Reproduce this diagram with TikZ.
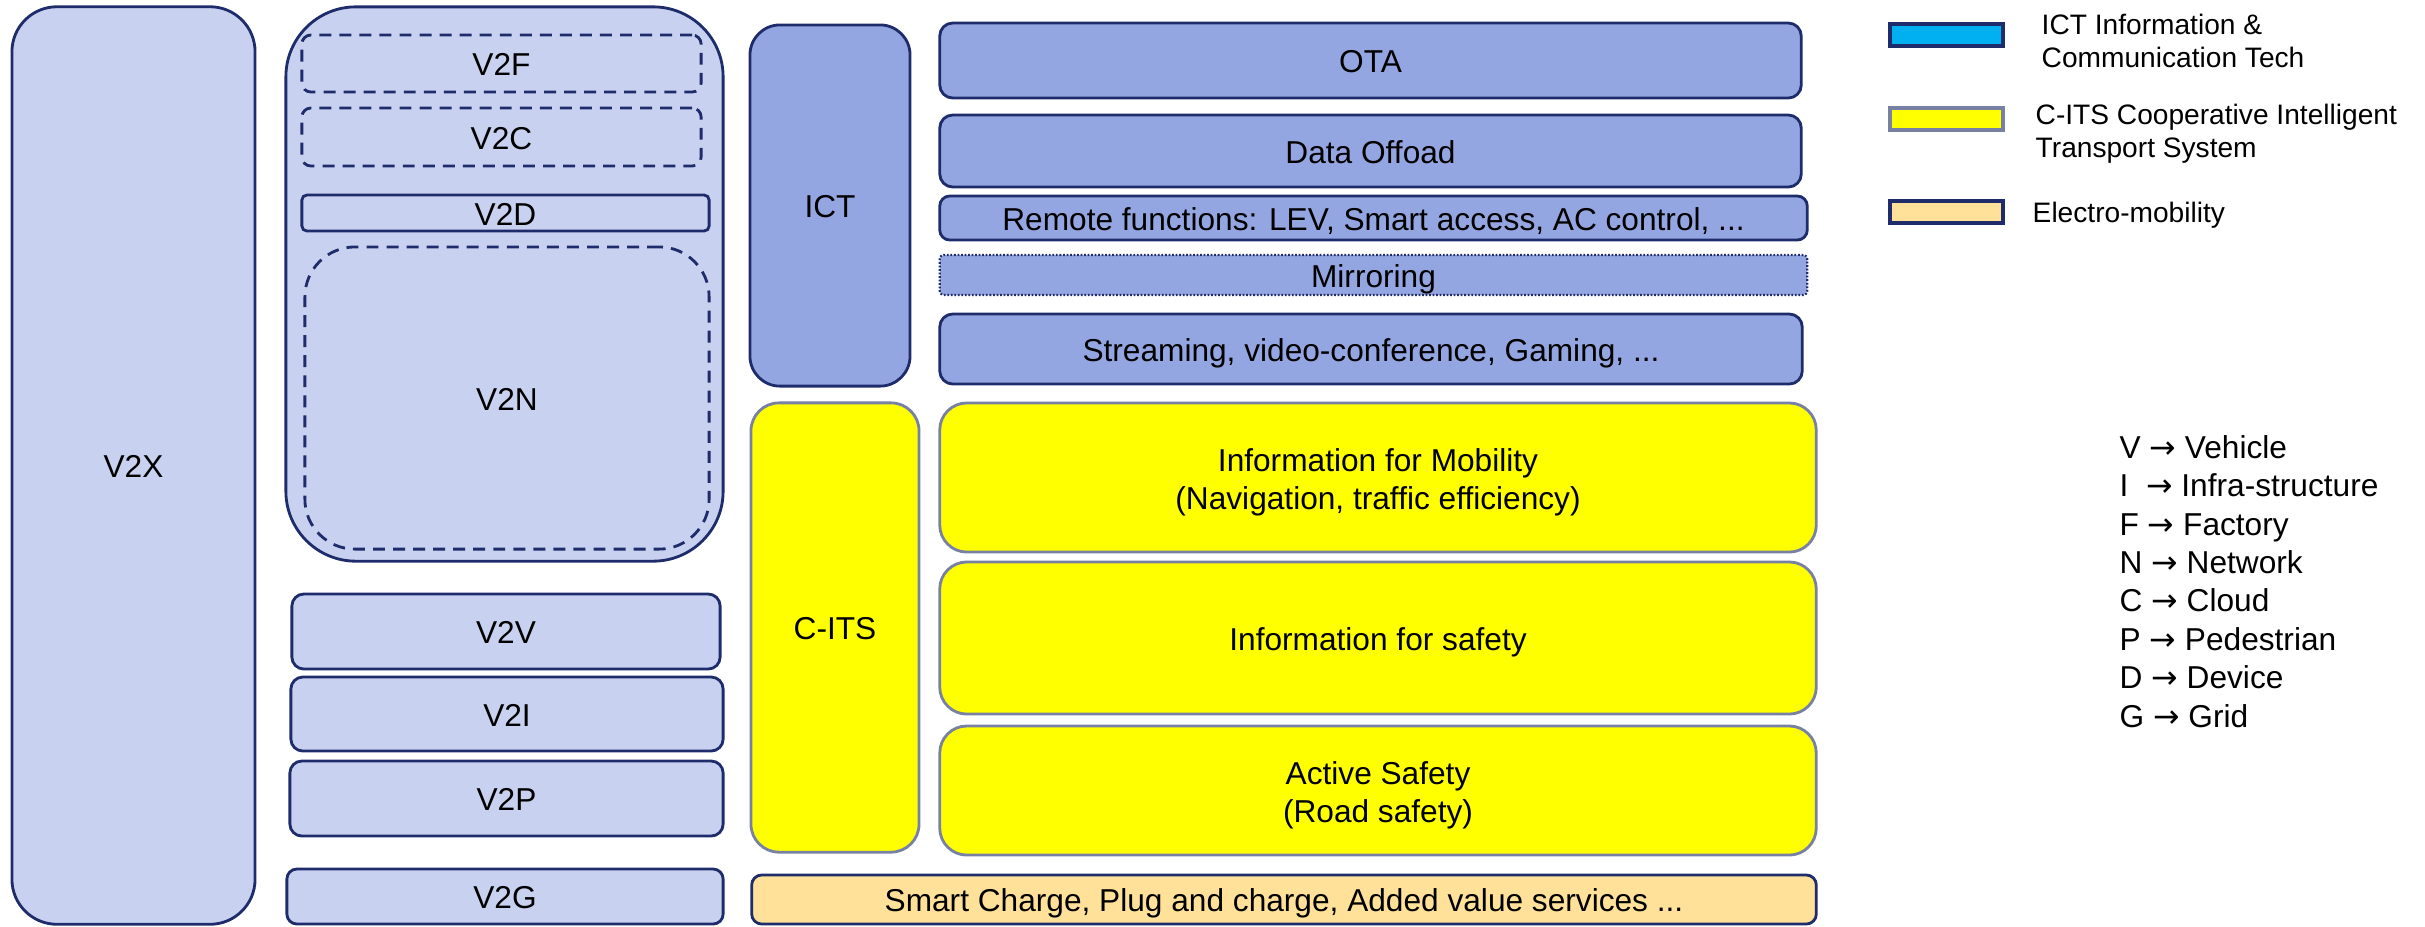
\documentclass[tikz,border=0pt]{standalone}
\usepackage{fontspec}
\setmainfont{Liberation Sans}
\newfontfamily\arrowfont{DejaVu Sans}
\definecolor{navy}{HTML}{1F2C6B}
\definecolor{lightv}{HTML}{C8D1F0}
\definecolor{ictc}{HTML}{94A6E1}
\definecolor{yelc}{HTML}{FFFF00}
\definecolor{ygray}{HTML}{7880A3}
\definecolor{echg}{HTML}{FFE199}
\definecolor{cyanc}{HTML}{00B0F0}
\newcommand{\bxat}[7]{%
  \pgfmathsetmacro{\bxw}{(#5-#3)/100}%
  \pgfmathsetmacro{\bxh}{(#6-#4)/100}%
  \node[#2, minimum width=\bxw cm, minimum height=\bxh cm] (#1) at ({(#3+#5)/2},{(#4+#6)/2}) {#7};%
}
\newcommand{\toparr}{{\arrowfont →}}
\newcommand{\lineup}{\rule{0pt}{9.2pt}}
\tikzset{
  basebox/.style={draw=navy, line width=0.8pt, inner sep=0pt, align=center,
    font=\fontsize{9}{10.8}\selectfont},
  one/.style={text height=7pt, text depth=0pt},
  vbox/.style={basebox, one, fill=lightv},
  ictbox/.style={basebox, one, fill=ictc},
  yelbox/.style={basebox, fill=yelc, draw=ygray},
  elbox/.style={basebox, one, fill=echg},
  dashbox/.style={dash pattern=on 3.4pt off 2.3pt},
  dotbox/.style={dash pattern=on 0.5pt off 0.5pt, line width=0.6pt},
  swatch/.style={line width=0.9pt, inner sep=0pt, minimum width=1.13cm, minimum height=0.22cm},
  legtxt/.style={anchor=west, align=left, inner sep=0pt, font=\fontsize{8}{9.5}\selectfont},
  glos/.style={anchor=base west, inner sep=0pt, font=\fontsize{9}{10}\selectfont}
}
\begin{document}
\begin{tikzpicture}[x=0.01cm, y=-0.01cm]
\useasboundingbox (0,0) rectangle (2425,926);
% left column
\bxat{v2x}{vbox, rounded corners=0.45cm}{12}{7}{255}{924}{V2X}
\bxat{grp}{vbox, rounded corners=0.7cm}{286}{7}{723}{561}{}
\bxat{v2f}{vbox, dashbox, rounded corners=0.09cm}{302}{35}{701}{92}{V2F}
\bxat{v2c}{vbox, dashbox, rounded corners=0.09cm}{302}{108}{701}{166}{V2C}
\bxat{v2d}{vbox, rounded corners=0.05cm}{302}{195}{709}{231}{V2D}
\bxat{v2n}{vbox, dashbox, rounded corners=0.5cm}{305}{247}{709}{549}{V2N}
\bxat{v2v}{vbox, rounded corners=0.12cm}{292}{594}{720}{669}{V2V}
\bxat{v2i}{vbox, rounded corners=0.12cm}{291}{677}{723}{751}{V2I}
\bxat{v2p}{vbox, rounded corners=0.12cm}{290}{761}{723}{836}{V2P}
\bxat{v2g}{vbox, rounded corners=0.1cm}{287}{869}{723}{924}{V2G}
% ICT
\bxat{ict}{ictbox, rounded corners=0.3cm}{750}{25}{910}{386}{ICT}
\bxat{ota}{ictbox, rounded corners=0.13cm}{940}{23}{1801}{98}{OTA}
\bxat{data}{ictbox, rounded corners=0.13cm}{940}{115}{1801}{187}{Data Offoad}
\bxat{remote}{ictbox, rounded corners=0.1cm}{940}{196}{1807}{240}{Remote functions: LEV, Smart access, AC control, ...}
\bxat{mirror}{ictbox, dotbox, rounded corners=0.04cm}{940}{255}{1807}{295}{Mirroring}
\bxat{stream}{ictbox, rounded corners=0.13cm}{940}{314}{1802}{384}{Streaming, video-conference, Gaming, ...}
% C-ITS
\bxat{cits}{yelbox, one, rounded corners=0.28cm}{751}{403}{919}{852}{C-ITS}
\bxat{mob}{yelbox, rounded corners=0.27cm}{940}{403}{1816}{552}{\lineup Information for Mobility\\(Navigation, traffic efficiency)}
\bxat{safe}{yelbox, one, rounded corners=0.27cm}{940}{562}{1816}{714}{Information for safety}
\bxat{active}{yelbox, rounded corners=0.27cm}{940}{726}{1816}{855}{\lineup Active Safety\\(Road safety)}
% Electro-mobility
\bxat{smart}{elbox, rounded corners=0.1cm}{752}{875}{1816}{924}{Smart Charge, Plug and charge, Added value services ...}
% legend
\node[swatch, fill=cyanc, draw=navy] (sw1) at (1946.5,35) {};
\node[swatch, fill=yelc, draw=ygray] (sw2) at (1946.5,119) {};
\node[swatch, fill=echg, draw=navy] (sw3) at (1946.5,212) {};
\node[legtxt] (lt1) at (2041,41) {ICT Information \&\\Communication Tech};
\node[legtxt] (lt2) at (2035,134) {C-ITS Cooperative Intelligent\\Transport System};
\node[legtxt] (lt3) at (2032,215) {Electro-mobility};
% glossary
\node[glos] (g1) at (2119,458.3) {V \toparr{} Vehicle};
\node[glos] (g2) at (2119,496.7) {I~~\toparr{} Infra-structure};
\node[glos] (g3) at (2119,535.1) {F \toparr{} Factory};
\node[glos] (g4) at (2119,573.5) {N \toparr{} Network};
\node[glos] (g5) at (2119,611.9) {C \toparr{} Cloud};
\node[glos] (g6) at (2119,650.3) {P \toparr{} Pedestrian};
\node[glos] (g7) at (2119,688.7) {D \toparr{} Device};
\node[glos] (g8) at (2119,727.1) {G \toparr{} Grid};
\end{tikzpicture}
\end{document}
